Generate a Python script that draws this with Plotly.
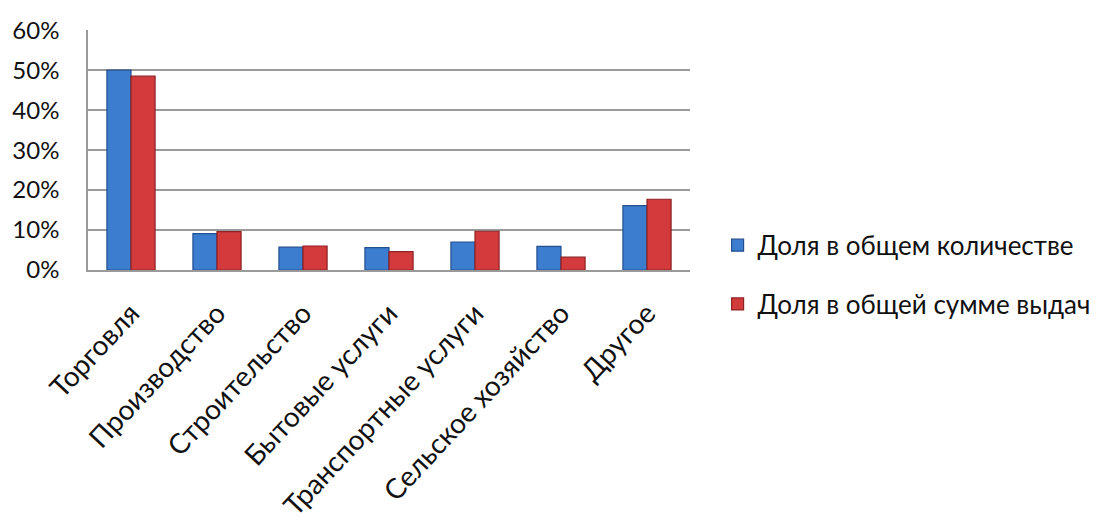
import plotly.graph_objects as go

categories = ["Торговля", "Производство", "Строительство", "Бытовые услуги",
              "Транспортные услуги", "Сельское хозяйство", "Другое"]
share_count = [0.50, 0.091, 0.057, 0.056, 0.070, 0.059, 0.161]
share_sum = [0.485, 0.096, 0.060, 0.046, 0.097, 0.032, 0.177]
series_names = ["Доля в общем количестве", "Доля в общей сумме выдач"]
y_ticks = [0, 0.1, 0.2, 0.3, 0.4, 0.5, 0.6]
y_tick_labels = ["0%", "10%", "20%", "30%", "40%", "50%", "60%"]

FONT = "Lato, 'Open Sans', sans-serif"

fig = go.Figure()
fig.add_trace(go.Bar(
    x=categories, y=share_count, name=series_names[0], legendgroup="a",
    marker=dict(color="#3C7DD0", line=dict(color="#24508F", width=1.2)),
))
fig.add_trace(go.Bar(
    x=categories, y=share_sum, name=series_names[1], legendgroup="b",
    marker=dict(color="#D23A3C", line=dict(color="#8E2224", width=1.2)),
))

fig.update_layout(
    width=1090, height=514,
    margin=dict(l=80, r=408, t=22, b=252, autoexpand=False),
    paper_bgcolor="white", plot_bgcolor="white",
    barmode="group", bargap=0.44, bargroupgap=0,
    font=dict(family=FONT, color="#111111"),
    showlegend=True,
    legend=dict(xref="container", yref="container", x=0.651, y=0.481,
                xanchor="left", yanchor="middle",
                font=dict(size=26, family=FONT), tracegroupgap=22,
                itemwidth=30, bgcolor="rgba(0,0,0,0)"),
)
fig.update_yaxes(
    range=[0, 0.6005], tickvals=y_ticks, ticktext=y_tick_labels,
    showgrid=True, gridcolor="#9a9a9a", gridwidth=1.5,
    showline=True, linecolor="#9a9a9a", linewidth=1.5,
    tickfont=dict(size=24, family=FONT), ticks="", zeroline=False,
    ticklabelstandoff=22, automargin=False,
)
fig.update_xaxes(
    tickangle=-47, tickfont=dict(size=28, family=FONT),
    showline=True, linecolor="#9a9a9a", linewidth=1.5, ticks="",
    ticklabelstandoff=14, automargin=False,
)

fig.write_html("out.html")
